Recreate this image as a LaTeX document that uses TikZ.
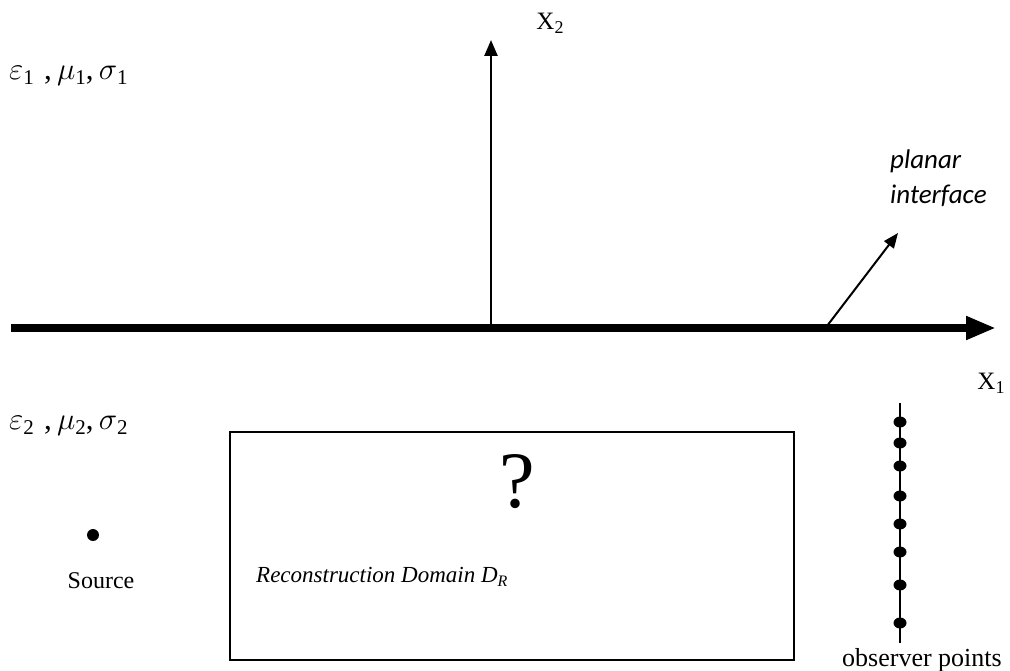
\RequirePackage{fix-cm}
\documentclass[tikz,border=0pt]{standalone}
\usepackage{fontspec}
\setmainfont{Liberation Serif}
\newfontfamily\calib{Carlito}
\usetikzlibrary{arrows.meta,shapes.geometric}
\newcommand{\subidx}[2][21]{\raisebox{-0.35ex}{\fontsize{#1}{#1}\selectfont #2}}
\tikzset{
  lbl/.style={inner sep=0pt, font=\fontsize{31}{36}\selectfont},
  axlbl/.style={inner sep=0pt, font=\fontsize{25}{30}\selectfont},
  dotmark/.style={circle, fill=black, inner sep=0pt, minimum size=12pt},
  obsmark/.style={ellipse, fill=black, inner sep=0pt, minimum width=13pt, minimum height=11pt},
}
\begin{document}
\begin{tikzpicture}[x=1pt,y=-1pt]
\useasboundingbox (0,0) rectangle (1010,671);
% axes
\coordinate (h0) at (11,328);
\coordinate (h1) at (996,328);
\coordinate (o) at (491,328);
\coordinate (vtop) at (491,40);
\draw[line width=8pt, -{Triangle[length=30pt,width=22pt]}] (h0) -- (h1);
\draw[line width=2.5pt, -{Triangle[length=16pt,width=13pt]}] (o) -- (vtop);
\node[axlbl] (x2) at (550,23) {X\subidx[18]{2}};
\node[axlbl] (x1) at (991,383) {X\subidx[18]{1}};
% media
\node[lbl, anchor=west] (m1) at (9,76) {$\varepsilon$\subidx{1}\,\,,\,$\mu$\subidx{1},\,$\sigma$\subidx{1}};
\node[lbl, anchor=west] (m2) at (9,426) {$\varepsilon$\subidx{2}\,\,,\,$\mu$\subidx{2},\,$\sigma$\subidx{2}};
% planar interface
\node[inner sep=0pt, font=\calib\itshape\fontsize{27}{35}\selectfont, align=left, anchor=north west] (pi) at (890,150) {planar\\interface};
\coordinate (ps) at (827,326);
\coordinate (pe) at (898,233);
\draw[line width=2pt, -{Triangle[length=15pt,width=12pt]}] (ps) -- (pe);
% reconstruction domain
\node[draw, line width=1.5pt, minimum width=564pt, minimum height=228pt, inner sep=0pt] (dom) at (512,546) {};
\node[inner sep=0pt, font=\fontsize{80}{80}\selectfont] (q) at (517,482) {?};
\node[inner sep=0pt, anchor=west, font=\itshape\fontsize{23}{26}\selectfont] (rd) at (256,577) {Reconstruction Domain D\subidx[16]{R}};
% source
\node[dotmark] (src) at (93,535) {};
\node[inner sep=0pt, font=\fontsize{24}{28}\selectfont] (srcl) at (101,581) {Source};
% observer points
\coordinate (ot) at (900,403);
\coordinate (ob) at (900,643);
\draw[line width=1.8pt] (ot) -- (ob);
\foreach \yy [count=\i] in {422,443,466,496,524,552,585,623} {
  \node[obsmark] (obs\i) at (900,\yy) {};
}
\node[inner sep=0pt, font=\fontsize{26}{28}\selectfont] (obsl) at (922,660) {observer points};
\end{tikzpicture}
\end{document}
